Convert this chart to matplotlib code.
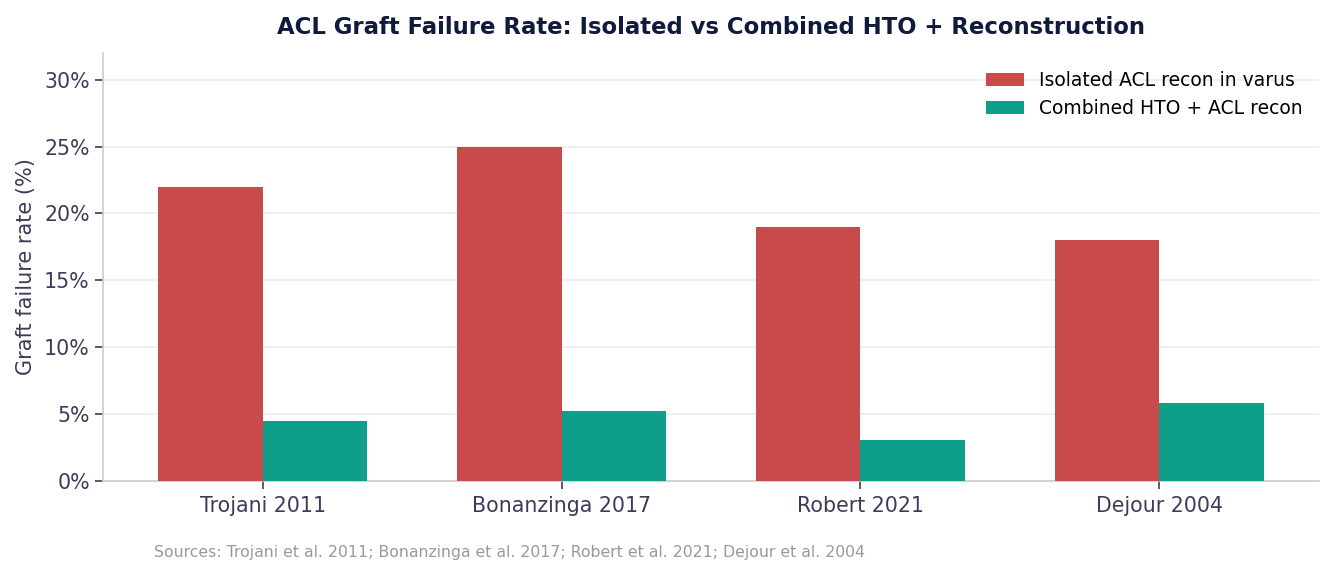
import numpy as np
import matplotlib
matplotlib.use('Agg')
import matplotlib.pyplot as plt
from matplotlib.ticker import FuncFormatter

studies = ['Trojani 2011', 'Bonanzinga 2017', 'Robert 2021', 'Dejour 2004']
isolated = [22.0, 25.0, 19.0, 18.0]
combined = [4.5, 5.2, 3.1, 5.8]
series_names = ['Isolated ACL recon in varus', 'Combined HTO + ACL recon']
source_note = 'Sources: Trojani et al. 2011; Bonanzinga et al. 2017; Robert et al. 2021; Dejour et al. 2004'

red = '#c94a4a'
teal = '#0e9f8a'
text_col = '#3c3c5a'

fig = plt.figure(figsize=(13.34, 5.74), dpi=100)
ax = fig.add_axes([0.0772, 0.162, 0.9116, 0.7458])

x = np.arange(len(studies))
w = 0.35
ax.bar(x - w / 2, isolated, w, color=red, label=series_names[0], zorder=3)
ax.bar(x + w / 2, combined, w, color=teal, label=series_names[1], zorder=3)

ax.set_ylim(0, 32)
ax.set_yticks(np.arange(0, 31, 5))
ax.yaxis.set_major_formatter(FuncFormatter(lambda v, p: f'{v:.0f}%'))
ax.set_xticks(x)
ax.set_xticklabels(studies)
ax.tick_params(axis='both', labelsize=14.8, colors=text_col, length=6, width=1.2)
ax.tick_params(axis='x', pad=5)
ax.grid(axis='y', color='#ececec', lw=1.2, zorder=0)
ax.set_axisbelow(True)
for s in ['top', 'right']:
    ax.spines[s].set_visible(False)
for s in ['left', 'bottom']:
    ax.spines[s].set_color('#cccccc')
    ax.spines[s].set_linewidth(1.2)

ax.set_ylabel('Graft failure rate (%)', fontsize=15, color=text_col, labelpad=6)
ax.set_title('ACL Graft Failure Rate: Isolated vs Combined HTO + Reconstruction',
             fontsize=16.4, fontweight='bold', color='#0f1b3d', pad=13.5)
ax.legend(loc='upper right', frameon=False, fontsize=13.5, handlelength=2.0,
          bbox_to_anchor=(1.0, 0.998))

fig.text(0.1155, 0.03, source_note, fontsize=11.3, color='#999999')

fig.savefig('out.png', dpi=100)
